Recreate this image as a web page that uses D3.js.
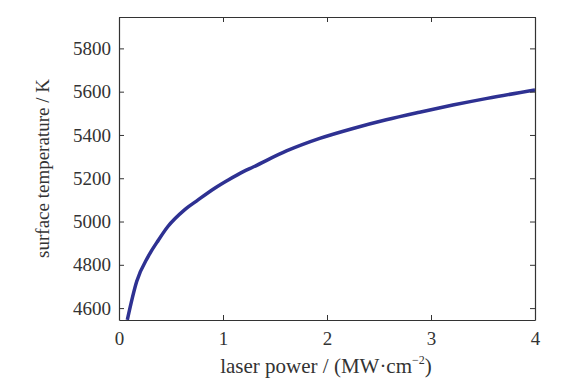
<!DOCTYPE html>
<html>
<head>
<meta charset="utf-8">
<script src="https://cdn.jsdelivr.net/npm/d3@7"></script>
<style>
  body { margin: 0; background: #fff; }
  svg text { font-family: "Liberation Serif", "Times New Roman", serif; fill: #333; }
</style>
</head>
<body>
<script>
// laser power (MW/cm^2) vs surface temperature (K)
const power = [0.08, 0.17, 0.28, 0.38, 0.47, 0.63, 0.76, 0.92, 1.05, 1.2, 1.29, 1.61, 1.93, 2.25, 2.57, 2.89, 3.21, 3.54, 4.0];
const temp  = [4546, 4723, 4838, 4915, 4977, 5054, 5100, 5154, 5192, 5232, 5252, 5326, 5384, 5430, 5470, 5505, 5538, 5569, 5608];
const xTicks = [0, 1, 2, 3, 4];
const yTicks = [4600, 4800, 5000, 5200, 5400, 5600, 5800];

const width = 575, height = 390;
const margin = {top: 17, right: 40, bottom: 70, left: 119};
const font = '"Liberation Serif", "Times New Roman", serif';

const x = d3.scaleLinear([0, 4], [margin.left, width - margin.right]);
const y = d3.scaleLinear([4545, 5945], [height - margin.bottom, margin.top]);

const svg = d3.select("body").append("svg")
    .attr("width", width)
    .attr("height", height)
    .attr("viewBox", [0, 0, width, height]);

const data = power.map((p, i) => [p, temp[i]]);

// curve
svg.append("path")
    .datum(data)
    .attr("fill", "none")
    .attr("stroke", "#2e3192")
    .attr("stroke-width", 3.5)
    .attr("stroke-linejoin", "round")
    .attr("d", d3.line().x(d => x(d[0])).y(d => y(d[1])).curve(d3.curveMonotoneX));

// axes: ticks inward, mirrored on top and right
const axisStyle = g => {
  g.attr("font-family", font).attr("font-size", 19);
  g.select(".domain").attr("stroke", "#333").attr("stroke-width", 1.2);
  g.selectAll(".tick line").attr("stroke", "#333");
  g.selectAll(".tick text").attr("fill", "#333");
};

svg.append("g")
    .attr("transform", `translate(0,${height - margin.bottom})`)
    .call(d3.axisBottom(x).tickValues(xTicks).tickFormat(d3.format("d")).tickSizeInner(-5).tickSizeOuter(0).tickPadding(12))
    .call(axisStyle);

svg.append("g")
    .attr("transform", `translate(0,${margin.top})`)
    .call(d3.axisTop(x).tickValues(xTicks).tickFormat("").tickSizeInner(-5).tickSizeOuter(0))
    .call(axisStyle);

svg.append("g")
    .attr("transform", `translate(${margin.left},0)`)
    .call(d3.axisLeft(y).tickValues(yTicks).tickFormat(d3.format("d")).tickSizeInner(-5).tickSizeOuter(0).tickPadding(8))
    .call(axisStyle);

svg.append("g")
    .attr("transform", `translate(${width - margin.right},0)`)
    .call(d3.axisRight(y).tickValues(yTicks).tickFormat("").tickSizeInner(-5).tickSizeOuter(0))
    .call(axisStyle);

// axis titles
const xl = svg.append("text")
    .attr("x", 326)
    .attr("y", 373)
    .attr("text-anchor", "middle")
    .attr("font-size", 21);
xl.append("tspan").text("laser power / (MW·cm");
xl.append("tspan").attr("dy", -9).attr("font-size", 12).text("−2");
xl.append("tspan").attr("dy", 9).text(")");

svg.append("text")
    .attr("transform", `translate(49,${(margin.top + height - margin.bottom) / 2}) rotate(-90)`)
    .attr("text-anchor", "middle")
    .attr("font-size", 19)
    .text("surface temperature / K");
</script>
</body>
</html>
